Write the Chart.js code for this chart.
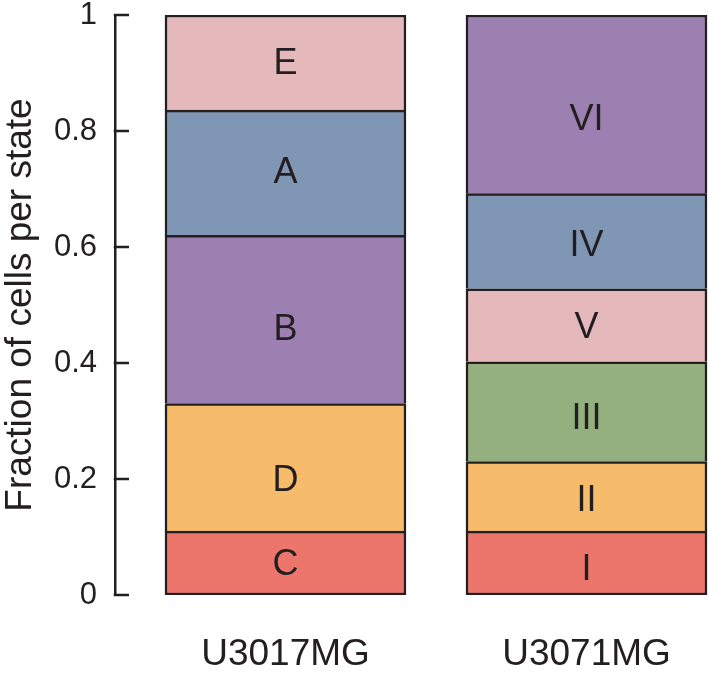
<!DOCTYPE html>
<html>
<head>
<meta charset="utf-8">
<script src="https://cdn.jsdelivr.net/npm/chart.js@4"></script>
<style>
  html, body { margin: 0; padding: 0; background: #ffffff; }
  #wrap { width: 709px; height: 676px; }
</style>
</head>
<body>
<div id="wrap"><canvas id="c" width="709" height="676"></canvas></div>
<script>
// ---- data ----
const categories = ['U3017MG', 'U3071MG'];
const leftLabels = ['C', 'D', 'B', 'A', 'E'];
const leftValues = [0.11, 0.22, 0.29, 0.216, 0.164];
const leftLabelAt = [0.053, 0.198, 0.458, 0.729, 0.917];   // label anchors, in data units
const rightLabels = ['I', 'II', 'III', 'V', 'IV', 'VI'];
const rightValues = [0.11, 0.12, 0.172, 0.126, 0.164, 0.308];
const rightLabelAt = [0.044, 0.163, 0.305, 0.462, 0.603, 0.820];
const yTicks = [0, 0.2, 0.4, 0.6, 0.8, 1];

// ---- styles ----
const palette = {
  C: '#ec756c', D: '#f7bc6b', B: '#9c80b2', A: '#8096b5', E: '#e5b8bb',
  I: '#ec756c', II: '#f7bc6b', III: '#94b07e', V: '#e5b8bb', IV: '#8096b5', VI: '#9c80b2'
};
const FONT = "'Liberation Sans', Arial, Helvetica, sans-serif";
const INK = '#231f20';

function buildDatasets(catIndex, labels, values, labelAt) {
  return labels.map((lab, i) => ({
    label: lab,
    labelAt: labelAt[i],
    data: [{ x: catIndex, y: values[i] }],
    backgroundColor: palette[lab],
    borderColor: INK,
    borderWidth: 2.5,
    borderSkipped: i === 0 ? false : 'start',
    barThickness: 241,
    stack: 's'
  }));
}

const datasets = [
  ...buildDatasets(0, leftLabels, leftValues, leftLabelAt),
  ...buildDatasets(1, rightLabels, rightValues, rightLabelAt)
];

const segmentLabels = {
  id: 'segmentLabels',
  afterDatasetsDraw(chart) {
    const ctx = chart.ctx;
    const ys = chart.scales.y;
    ctx.save();
    ctx.fillStyle = INK;
    ctx.font = '36px ' + FONT;
    ctx.textAlign = 'center';
    ctx.textBaseline = 'middle';
    chart.data.datasets.forEach((ds, di) => {
      const meta = chart.getDatasetMeta(di);
      meta.data.forEach(el => {
        const p = el.getProps(['x', 'y', 'base'], true);
        const y = ys.getPixelForValue(ds.labelAt);
        ctx.fillText(ds.label, p.x, y + 1);
      });
    });
    ctx.restore();
  }
};

const yTickMarks = {
  id: 'yTickMarks',
  afterDraw(chart) {
    const ys = chart.scales.y;
    const ctx = chart.ctx;
    const x0 = chart.chartArea.left;
    ctx.save();
    ctx.strokeStyle = INK;
    ctx.lineWidth = 2.5;
    ctx.beginPath();
    ys.ticks.forEach(t => {
      const y = ys.getPixelForValue(t.value);
      ctx.moveTo(x0 - 1.25, y);
      ctx.lineTo(x0 + 14, y);
    });
    ctx.stroke();
    ctx.restore();
  }
};

const centers = [0, 1];
new Chart(document.getElementById('c'), {
  type: 'bar',
  data: { datasets },
  options: {
    responsive: false,
    animation: false,
    devicePixelRatio: 1,
    layout: { padding: { top: 15, right: 0, left: 0, bottom: 0 } },
    plugins: { legend: { display: false }, tooltip: { enabled: false } },
    scales: {
      x: {
        type: 'linear',
        stacked: true,
        offset: false,
        bounds: 'data',
        min: -0.5664,
        max: 1.407,
        grid: { display: false },
        border: { display: false },
        afterBuildTicks(scale) { scale.ticks = centers.map(v => ({ value: v })); },
        afterFit(scale) {
          scale.height = 81;
          scale.paddingLeft = 0; scale.paddingRight = 0;
          scale.paddingTop = 0; scale.paddingBottom = 0;
        },
        ticks: {
          autoSkip: false,
          maxRotation: 0,
          padding: 30,
          color: INK,
          font: { family: FONT, size: 37 },
          callback: (v) => categories[Math.round(v)] ?? ''
        }
      },
      y: {
        stacked: true,
        min: 0,
        max: 1,
        afterBuildTicks(scale) { scale.ticks = yTicks.map(v => ({ value: v })); },
        afterFit(scale) {
          scale.width = 115;
          scale.paddingLeft = 0; scale.paddingRight = 0;
          scale.paddingTop = 0; scale.paddingBottom = 0;
        },
        grid: { display: false, drawTicks: false },
        border: { display: true, color: INK, width: 2.5 },
        ticks: {
          padding: 18,
          color: INK,
          font: { family: FONT, size: 31 },
          callback: (v) => String(Number(v.toFixed(1)))
        },
        title: {
          display: true,
          text: 'Fraction of cells per state',
          color: INK,
          font: { family: FONT, size: 37, lineHeight: 1.1 },
          padding: 0
        }
      }
    }
  },
  plugins: [segmentLabels, yTickMarks]
});
</script>
</body>
</html>
